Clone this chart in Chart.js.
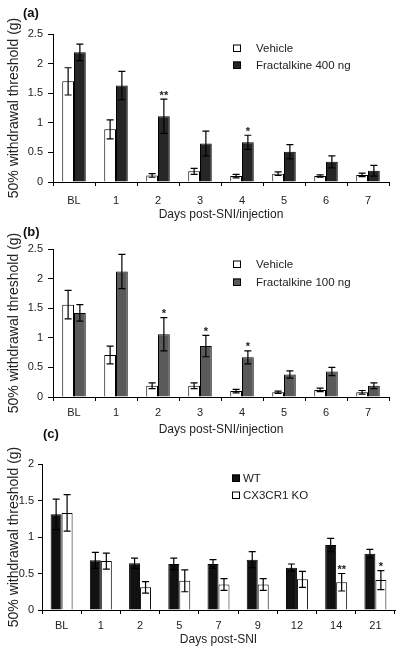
<!DOCTYPE html>
<html>
<head>
<meta charset="utf-8">
<script src="https://cdn.jsdelivr.net/npm/chart.js@4.4.1/dist/chart.umd.min.js"></script>
<style>
  html, body { margin: 0; padding: 0; background: #fff; }
  #wrap { position: relative; width: 400px; height: 652px; }
  .panel { position: absolute; left: 0; width: 400px; }
</style>
</head>
<body>
<div id="wrap">
  <div class="panel" style="top:0;height:222px"><canvas id="chartA"></canvas></div>
  <div class="panel" style="top:222px;height:218px"><canvas id="chartB"></canvas></div>
  <div class="panel" style="top:425px;height:227px"><canvas id="chartC"></canvas></div>
</div>
<script>
// panel (a) / (b): days after SNI + injection
const daysInj = ['BL', '1', '2', '3', '4', '5', '6', '7'];

const vehA = [1.70, 0.89, 0.11, 0.18, 0.10, 0.14, 0.10, 0.12];
const vehAErr = [0.23, 0.16, 0.03, 0.05, 0.03, 0.03, 0.02, 0.03];
const fkn400 = [2.19, 1.63, 1.11, 0.65, 0.67, 0.51, 0.34, 0.19];
const fkn400Err = [0.14, 0.24, 0.29, 0.21, 0.12, 0.12, 0.10, 0.09];
const starsA = ['', '', '**', '', '*', '', '', ''];

const vehB = [1.56, 0.71, 0.19, 0.19, 0.10, 0.08, 0.12, 0.08];
const vehBErr = [0.24, 0.15, 0.05, 0.05, 0.03, 0.02, 0.03, 0.03];
const fkn100 = [1.42, 2.12, 1.06, 0.86, 0.67, 0.38, 0.43, 0.19];
const fkn100Err = [0.14, 0.29, 0.28, 0.18, 0.11, 0.06, 0.07, 0.05];
const starsB = ['', '', '*', '*', '*', '', '', ''];

// panel (c): knockout time course
const daysSNI = ['BL', '1', '2', '5', '7', '9', '12', '14', '21'];
const wt = [1.31, 0.68, 0.64, 0.63, 0.63, 0.69, 0.58, 0.89, 0.77];
const wtErr = [0.21, 0.11, 0.07, 0.08, 0.06, 0.11, 0.05, 0.09, 0.06];
const ko = [1.33, 0.67, 0.31, 0.40, 0.35, 0.35, 0.42, 0.38, 0.41];
const koErr = [0.25, 0.11, 0.08, 0.15, 0.08, 0.08, 0.11, 0.12, 0.13];
const starsC = ['', '', '', '', '', '', '', '**', '*'];

const FONT = 'Arial, "Liberation Sans", sans-serif';
const INK = '#222';

// error bars + significance stars, drawn through the scales
const errorBars = {
  id: 'errorBars',
  afterDatasetsDraw(chart) {
    const ctx = chart.ctx;
    const y = chart.scales.y;
    chart.data.datasets.forEach((ds, di) => {
      const meta = chart.getDatasetMeta(di);
      meta.data.forEach((bar, i) => {
        const v = ds.data[i], e = ds.errors[i];
        const top = y.getPixelForValue(v + e);
        const bot = y.getPixelForValue(v - e);
        ctx.save();
        ctx.strokeStyle = '#000';
        ctx.lineWidth = 1.2;
        ctx.beginPath();
        ctx.moveTo(bar.x, top); ctx.lineTo(bar.x, bot);
        ctx.moveTo(bar.x - 3.5, top); ctx.lineTo(bar.x + 3.5, top);
        ctx.moveTo(bar.x - 3.5, bot); ctx.lineTo(bar.x + 3.5, bot);
        ctx.stroke();
        if (ds.stars && ds.stars[i]) {
          ctx.fillStyle = INK;
          ctx.font = 'bold 11px ' + FONT;
          ctx.textAlign = 'center';
          ctx.textBaseline = 'bottom';
          ctx.fillText(ds.stars[i], bar.x, top + 2);
        }
        ctx.restore();
      });
    });
  }
};

// panel letter + legend box
const panelDeco = {
  id: 'panelDeco',
  afterDraw(chart, args, opts) {
    const ctx = chart.ctx;
    ctx.save();
    ctx.fillStyle = '#111';
    ctx.font = 'bold 13px ' + FONT;
    ctx.textBaseline = 'middle';
    ctx.textAlign = 'left';
    ctx.fillText(opts.letter, opts.letterX, opts.letterY);
    ctx.font = '11.5px ' + FONT;
    chart.data.datasets.forEach((ds, i) => {
      const cy = opts.legY + i * opts.legGap;
      ctx.fillStyle = ds.backgroundColor;
      ctx.fillRect(opts.boxX, cy - 3.5, 8, 7);
      ctx.strokeStyle = '#000';
      ctx.lineWidth = 1;
      ctx.strokeRect(opts.boxX + 0.5, cy - 3, 7, 6.5);
      ctx.fillStyle = INK;
      ctx.fillText(ds.label, opts.textX, cy + 0.5);
    });
    ctx.restore();
  }
};

function makeChart(id, labels, datasets, cfg) {
  return new Chart(document.getElementById(id), {
    type: 'bar',
    data: { labels, datasets },
    options: {
      responsive: true,
      maintainAspectRatio: false,
      animation: false,
      categoryPercentage: cfg.catPct,
      barPercentage: 1,
      layout: { padding: { top: cfg.padTop, right: cfg.padRight, left: 0, bottom: 0 } },
      plugins: {
        legend: { display: false },
        tooltip: { enabled: false },
        panelDeco: cfg.deco
      },
      scales: {
        x: {
          afterFit: s => { s.height = cfg.xHeight; },
          grid: { drawOnChartArea: false, color: '#000', tickLength: 4, offset: true },
          border: { color: '#000', width: 1 },
          ticks: { color: INK, font: { family: FONT, size: 11 }, padding: cfg.xPad },
          title: { display: true, text: cfg.xTitle, color: INK,
                   font: { family: FONT, size: 12 }, padding: { top: 0, bottom: cfg.xTitlePad } }
        },
        y: {
          min: 0, max: cfg.yMax,
          afterFit: s => { s.width = cfg.yWidth; },
          grid: { drawOnChartArea: false, color: '#000', tickLength: cfg.yTick },
          border: { color: '#000', width: 1 },
          ticks: { stepSize: 0.5, color: INK, font: { family: FONT, size: 11 }, padding: cfg.yPad,
                   callback: v => String(Math.round(v * 10) / 10) },
          title: { display: true, text: '50% withdrawal threshold (g)', color: INK,
                   font: { family: FONT, size: 14 }, padding: { top: 6, bottom: 0 } }
        }
      }
    },
    plugins: [errorBars, panelDeco]
  });
}

makeChart('chartA', daysInj, [
  { label: 'Vehicle', data: vehA, errors: vehAErr, backgroundColor: '#ffffff', borderColor: '#000', borderWidth: 1 },
  { label: 'Fractalkine 400 ng', data: fkn400, errors: fkn400Err, stars: starsA, backgroundColor: '#262626', borderColor: '#000', borderWidth: 1 }
], {
  catPct: 0.56, padTop: 34, padRight: 11, xHeight: 40, xPad: 8, xTitle: 'Days post-SNI/injection', xTitlePad: 0,
  yMax: 2.5, yWidth: 53, yTick: 5, yPad: 5,
  deco: { letter: '(a)', letterX: 23, letterY: 13, boxX: 233, textX: 256, legY: 48, legGap: 17 }
});

makeChart('chartB', daysInj, [
  { label: 'Vehicle', data: vehB, errors: vehBErr, backgroundColor: '#ffffff', borderColor: '#000', borderWidth: 1 },
  { label: 'Fractalkine 100 ng', data: fkn100, errors: fkn100Err, stars: starsB, backgroundColor: '#5a5a5a', borderColor: '#000', borderWidth: 1 }
], {
  catPct: 0.56, padTop: 27, padRight: 11, xHeight: 43, xPad: 5, xTitle: 'Days post-SNI/injection', xTitlePad: 3,
  yMax: 2.5, yWidth: 53, yTick: 5, yPad: 5,
  deco: { letter: '(b)', letterX: 23, letterY: 10, boxX: 233, textX: 256, legY: 42, legGap: 18 }
});

makeChart('chartC', daysSNI, [
  { label: 'WT', data: wt, errors: wtErr, backgroundColor: '#111111', borderColor: '#000', borderWidth: 1 },
  { label: 'CX3CR1 KO', data: ko, errors: koErr, stars: starsC, backgroundColor: '#ffffff', borderColor: '#000', borderWidth: 1 }
], {
  catPct: 0.56, padTop: 39, padRight: 5, xHeight: 42, xPad: 5, xTitle: 'Days post-SNI', xTitlePad: 5,
  yMax: 2, yWidth: 42, yTick: 4, yPad: 4,
  deco: { letter: '(c)', letterX: 43, letterY: 9, boxX: 232, textX: 243, legY: 53, legGap: 17 }
});
</script>
</body>
</html>
